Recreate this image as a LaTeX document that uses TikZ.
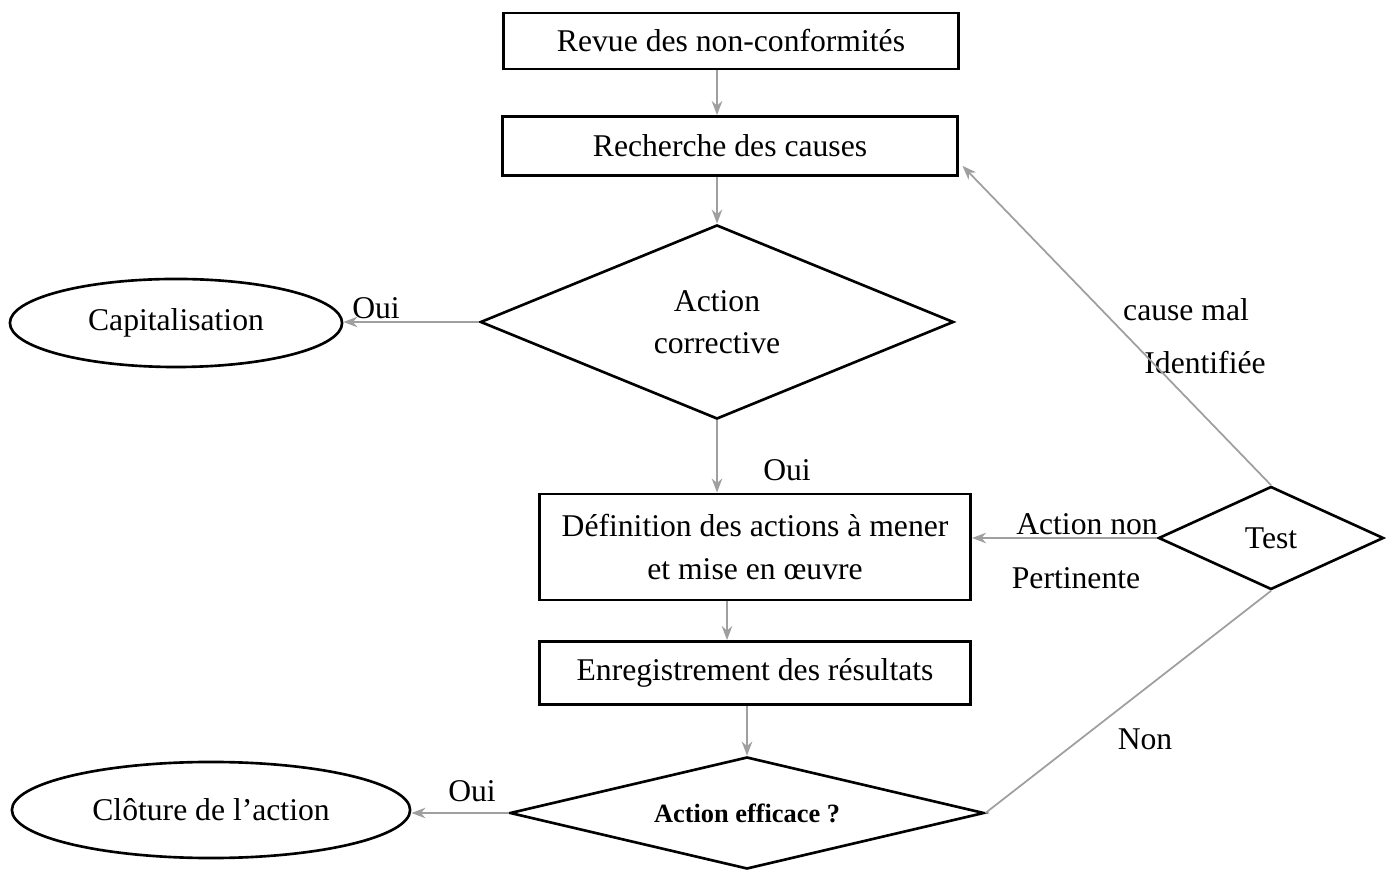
\documentclass[tikz,border=0pt]{standalone}
\usepackage{fontspec}
\setmainfont{Liberation Serif}
\usetikzlibrary{shapes.geometric,arrows.meta}

\begin{document}
\begin{tikzpicture}[x=0.01cm, y=-0.01cm, >={Stealth[length=4pt,width=3pt]},
	box/.style={draw, line width=0.8pt, inner sep=0pt, align=center, font=\fontsize{9}{12}\selectfont},
	decision/.style={draw, diamond, aspect=4.5, line width=0.75pt, inner sep=0pt, align=center, font=\fontsize{9}{12}\selectfont},
	term/.style={draw, ellipse, line width=0.75pt, inner sep=0pt, font=\fontsize{9}{12}\selectfont},
	flow/.style={->, draw=gray!75, line width=0.5pt},
	lbl/.style={inner sep=0pt, font=\fontsize{9}{12}\selectfont}]
		\useasboundingbox (0,0) rectangle (1395,871);
		% boites
		\node[box, minimum width=4.54cm, minimum height=0.56cm] (revue) at (731,41) {Revue des non-conformités};
		\node[box, minimum width=4.55cm, minimum height=0.59cm] (causes) at (730,146) {Recherche des causes};
		\node[decision, aspect=2, minimum width=4.73cm, minimum height=1.94cm] (corr) at (717,322) {Action\\corrective};
		\node[term, minimum width=3.32cm, minimum height=0.88cm] (capi) at (176,323) {Capitalisation};
		\node[box, minimum width=4.31cm, minimum height=1.06cm] (defin) at (755,547) {Définition des actions à mener\\et mise en œuvre};
		\node[box, minimum width=4.30cm, minimum height=0.63cm] (enreg) at (755,673) {Enregistrement des résultats};
		\node[decision, minimum width=4.74cm, minimum height=1.12cm, font=\fontsize{7.5}{10}\selectfont\bfseries] (effic) at (747,813) {Action efficace ?};
		\node[term, minimum width=3.98cm, minimum height=0.96cm] (clot) at (211,810) {Clôture de l’action};
		\node[decision, aspect=2.2, minimum width=2.25cm, minimum height=1.03cm] (test) at (1271,538) {Test};
		% etiquettes
		\node[lbl] (oui1) at (376,308) {Oui};
		\node[lbl] (oui2) at (787,470) {Oui};
		\node[lbl] (oui3) at (472,791) {Oui};
		\node[lbl] (cause) at (1186,310) {cause mal};
		\node[lbl] (ident) at (1205,363) {Identifiée};
		\node[lbl] (actnon) at (1087,524) {Action non};
		\node[lbl] (pert) at (1076,578) {Pertinente};
		\node[lbl] (non) at (1145,739) {Non};
		% liaisons
		\draw[flow] (corr.north |- revue.south) -- (corr.north |- causes.north);
		\draw[flow] (corr.north |- causes.south) -- (corr.north);
		\draw[flow] (corr.west) -- (corr.west -| capi.east);
		\draw[flow] (corr.south) -- (corr.south |- defin.north);
		\draw[flow] ([xshift=-0.28cm]defin.south) -- ([xshift=-0.28cm]enreg.north);
		\draw[flow] (effic.north |- enreg.south) -- (effic.north);
		\draw[flow] (effic.west) -- (effic.west -| clot.east);
		\draw[draw=gray!75, line width=0.5pt] (effic.east) -- (test.south);
		\draw[flow] (test.west) -- (test.west -| defin.east);
		\draw[flow] (test.north) -- ([xshift=1pt, yshift=0.11cm]causes.south east);
\end{tikzpicture}
\end{document}
